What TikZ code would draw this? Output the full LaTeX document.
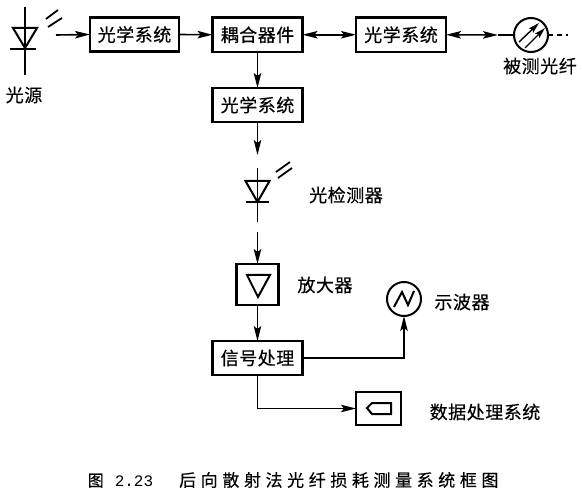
\documentclass[tikz,border=0pt]{standalone}
\usepackage{fontspec}
\setmainfont{Noto Sans CJK SC}
\newfontfamily\numfont{Liberation Mono}
\usetikzlibrary{arrows.meta}
\tikzset{
  x=1pt,y=-1pt,
  every path/.style={line width=1.6pt,black},
  blk/.style={draw,line width=2.2pt,inner sep=0pt,outer sep=0pt,anchor=north west},
  lbl/.style={inner sep=0pt,font=\fontsize{18}{18}\selectfont\addfontfeature{LetterSpace=3,FakeBold=0.4}},
  capt/.style={inner sep=0pt,anchor=west,font=\fontsize{16}{16}\selectfont\addfontfeature{FakeBold=0.3}},
  conn/.style={-{Stealth[length=15pt,width=7.5pt,inset=3pt]}},
  both/.style={{Stealth[length=15pt,width=7.5pt,inset=3pt]}-{Stealth[length=15pt,width=7.5pt,inset=3pt]}},
  ring/.style={circle,draw,line width=2pt,inner sep=0pt,outer sep=0pt,minimum size=34pt},
  thick ray/.style={line width=1.8pt},
  icon/.style={line width=2pt}
}
\begin{document}
\begin{tikzpicture}
\useasboundingbox (0,0) rectangle (582,492);
% boxes
\node[blk,minimum width=89pt,minimum height=34pt,lbl] (b1) at (90,17.5) {光学系统};
\node[blk,minimum width=90pt,minimum height=34.5pt,lbl] (b2) at (212.5,17.5) {耦合器件};
\node[blk,minimum width=90pt,minimum height=34.5pt,lbl] (b3) at (356,17.5) {光学系统};
\node[blk,minimum width=90pt,minimum height=34pt,lbl] (b4) at (212.5,88) {光学系统};
\node[blk,minimum width=42pt,minimum height=41pt] (amp) at (236.5,264) {};
\node[blk,minimum width=90pt,minimum height=34pt,lbl] (sig) at (212.5,341) {信号处理};
\node[blk,minimum width=45pt,minimum height=33pt] (dat) at (356,392) {};
\node[ring] (fib) at (531,35) {};
\node[ring] (sco) at (404,299) {};
% labels
\node[lbl] (t1) at (24,95) {光源};
\node[lbl] (t2) at (540,66) {被测光纤};
\node[lbl] (t3) at (346,195) {光检测器};
\node[lbl] (t4) at (325,285) {放大器};
\node[lbl] (t5) at (462,302) {示波器};
\node[lbl] (t6) at (485,412) {数据处理系统};
\node[capt] (c1) at (87,480) {图\hspace{11pt}{\numfont 2.23}\hspace{26pt}{\fontsize{17}{17}\selectfont\addfontfeature{LetterSpace=27,FakeBold=0.3}后向散射法光纤损耗测量系统框图}};
% free ends
\coordinate (s1) at (56,35);
\coordinate (d2a) at (257.5,155);
\coordinate (d2b) at (257.5,232);
\coordinate (tip) at (498,35);
\coordinate (dashe) at (568,35);
\coordinate (corner1) at (404,358);
\coordinate (corner2) at (257.5,408.5);
% connectors
\draw[conn] (s1) -- (b1.west);
\draw[conn] (b1.east) -- (b2.west);
\draw[both] (b2.east) -- (b3.west);
\draw[both] (b3.east) -- (tip);
\draw (tip) -- (fib.west);
\draw[line width=1.1pt,dash pattern=on 5pt off 4pt] (fib.east) -- (dashe);
\draw[conn] (b2.south) -- (b4.north);
\draw[conn] (b4.south) -- (d2a);
\draw[conn] (d2b) -- (amp.north);
\draw[conn] (amp.south) -- (sig.north);
\draw[conn] (sig.east) -- (corner1) -- (sco.south);
\draw[conn] (sig.south) -- (corner2) -- (dat.west);
% diode 1
\draw (25,7) -- (25,75);
\draw[icon] (13,28) -- (37,28) -- (25,48) -- cycle;
\draw[icon] (10,49) -- (36,49);
\draw[thick ray] (46,19) -- (58,10);
\draw[thick ray] (48,27) -- (62,18);
% diode 2
\draw (257.5,168) -- (257.5,222);
\draw[icon] (245.5,181) -- (269.5,181) -- (257.5,202) -- cycle;
\draw[icon] (246,202) -- (269,202);
\draw[thick ray] (276,172) -- (290,162);
\draw[thick ray] (278,178) -- (292,168);
% amplifier icon
\draw[icon] (247,275) -- (270,275) -- (258,297) -- cycle;
% fibre icon
\draw[line width=1.4pt,-{Stealth[length=11pt,width=6pt,inset=2pt]}] (519,42) -- (539,23);
\draw[line width=1.4pt,-{Stealth[length=11pt,width=6pt,inset=2pt]}] (525,48) -- (545,28);
% scope icon
\draw[icon] (394,307) -- (402,292) -- (408,305) -- (414,291);
% data icon
\draw[icon] (367,408) -- (372,403) -- (391,403) -- (391,414) -- (372,414) -- cycle;
\end{tikzpicture}
\end{document}
